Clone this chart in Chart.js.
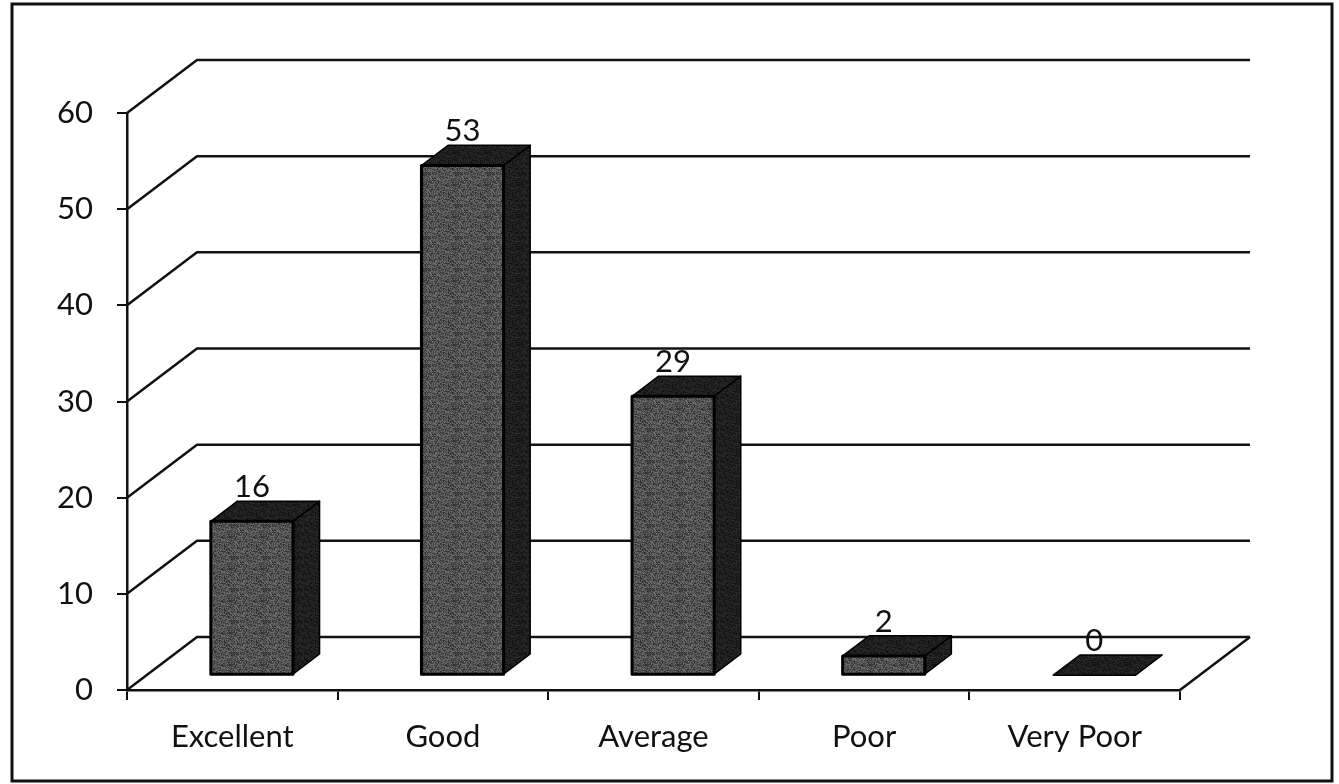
<!DOCTYPE html>
<html>
<head>
<meta charset="utf-8">
<script src="https://cdn.jsdelivr.net/npm/chart.js@4.4.0/dist/chart.umd.min.js"></script>
<style>
    html, body { margin: 0; padding: 0; background: #fff; overflow: hidden; }
    #wrap { width: 1339px; height: 784px; position: relative; }
</style>
</head>
<body>
<div id="wrap"><canvas id="chart"></canvas></div>
<script>
// -- Data --
const categories = ['Excellent', 'Good', 'Average', 'Poor', 'Very Poor'];
const values = [16, 53, 29, 2, 0];
const yTicks = [0, 10, 20, 30, 40, 50, 60];

// -- 3D look --
const DEPTH_X = 70;      // back wall shift right
const DEPTH_Y = 53;      // back wall shift up
const BAR_FRONT = 0.28;  // bar front face, fraction of depth
const BAR_BACK = 0.66;   // bar back face
const INK = '#111';
const FONT = { family: 'Lato, "Open Sans", sans-serif', size: 31 };

// speckled grey, like the printed bars (hash based, fixed)
function makeGrain(base, spread) {
    const c = document.createElement('canvas');
    c.width = c.height = 32;
    const g = c.getContext('2d');
    for (let yy = 0; yy < 32; yy++) {
        for (let xx = 0; xx < 32; xx++) {
            const h = Math.sin(xx * 12.9898 + yy * 78.233) * 43758.5453;
            const t = h - Math.floor(h);
            const v = Math.round(base + (t - 0.5) * spread);
            g.fillStyle = `rgb(${v},${v},${v})`;
            g.fillRect(xx, yy, 1, 1);
        }
    }
    return c;
}

const chart3d = {
    id: 'chart3d',
    beforeDatasetsDraw(chart) {
        const { ctx, chartArea: a, scales: { y } } = chart;
        ctx.save();
        ctx.strokeStyle = INK;
        ctx.lineWidth = 2.5;
        yTicks.forEach(v => {
            const py = y.getPixelForValue(v);
            ctx.beginPath();
            ctx.moveTo(a.left, py);
            ctx.lineTo(a.left + DEPTH_X, py - DEPTH_Y);
            ctx.lineTo(a.right + DEPTH_X, py - DEPTH_Y);
            ctx.stroke();
        });
        // floor right edge
        const p0 = y.getPixelForValue(0);
        ctx.beginPath();
        ctx.moveTo(a.right, p0);
        ctx.lineTo(a.right + DEPTH_X, p0 - DEPTH_Y);
        ctx.stroke();
        ctx.restore();
    },
    afterDatasetsDraw(chart) {
        const { ctx } = chart;
        const meta = chart.getDatasetMeta(0);
        const fx = DEPTH_X * BAR_FRONT, fy = DEPTH_Y * BAR_FRONT;
        const dx = DEPTH_X * (BAR_BACK - BAR_FRONT), dy = DEPTH_Y * (BAR_BACK - BAR_FRONT);
        const frontFill = ctx.createPattern(makeGrain(80, 70), 'repeat');
        const darkFill = ctx.createPattern(makeGrain(30, 30), 'repeat');
        ctx.save();
        ctx.lineJoin = 'round';
        meta.data.forEach((el, i) => {
            const w = el.width;
            const x0 = el.x - w / 2 + fx, x1 = x0 + w;
            const yTop = el.y - fy, yBot = el.base - fy;

            // side
            ctx.beginPath();
            ctx.moveTo(x1, yTop);
            ctx.lineTo(x1 + dx, yTop - dy);
            ctx.lineTo(x1 + dx, yBot - dy);
            ctx.lineTo(x1, yBot);
            ctx.closePath();
            ctx.fillStyle = darkFill;
            ctx.fill();
            ctx.strokeStyle = '#000';
            ctx.lineWidth = 1.5;
            ctx.stroke();

            // top
            ctx.beginPath();
            ctx.moveTo(x0, yTop);
            ctx.lineTo(x0 + dx, yTop - dy);
            ctx.lineTo(x1 + dx, yTop - dy);
            ctx.lineTo(x1, yTop);
            ctx.closePath();
            ctx.fillStyle = darkFill;
            ctx.fill();
            ctx.stroke();

            // front
            if (yBot - yTop > 0.5) {
                ctx.fillStyle = frontFill;
                ctx.fillRect(x0, yTop, w, yBot - yTop);
                ctx.lineWidth = 3;
                ctx.strokeRect(x0, yTop, w, yBot - yTop);
            }

            // value label
            ctx.fillStyle = INK;
            ctx.font = `${FONT.size}px ${FONT.family}`;
            ctx.textAlign = 'center';
            ctx.textBaseline = 'alphabetic';
            ctx.fillText(String(values[i]), x0 + w / 2, yTop - dy - 4);
        });
        ctx.restore();
    },
    afterDraw(chart) {
        const { ctx } = chart;
        ctx.save();
        ctx.strokeStyle = INK;
        ctx.lineWidth = 3;
        ctx.strokeRect(12, 4, 1320, 777);
        ctx.restore();
    }
};

new Chart(document.getElementById('chart'), {
    type: 'bar',
    data: {
        labels: categories,
        datasets: [{
            data: values,
            backgroundColor: 'rgba(0,0,0,0)',
            borderWidth: 0,
            categoryPercentage: 1,
            barPercentage: 0.39
        }]
    },
    options: {
        responsive: true,
        maintainAspectRatio: false,
        animation: false,
        layout: { padding: { left: 0, top: 113, right: 159, bottom: 0 } },
        plugins: {
            legend: { display: false },
            tooltip: { enabled: false }
        },
        scales: {
            x: {
                grid: { drawOnChartArea: false, drawTicks: true, tickLength: 10, color: INK, lineWidth: 2, offset: true },
                border: { display: true, color: INK, width: 2.5 },
                ticks: { color: INK, font: FONT, padding: 18, maxRotation: 0 },
                afterFit(s) { s.height = 94; }
            },
            y: {
                min: 0, max: 60,
                grid: { drawOnChartArea: false, drawTicks: true, tickLength: 10, color: INK, lineWidth: 2 },
                border: { display: true, color: INK, width: 2.5 },
                ticks: { stepSize: 10, color: INK, font: FONT, padding: 24 },
                afterFit(s) { s.width = 127; }
            }
        }
    },
    plugins: [chart3d]
});
</script>
</body>
</html>
